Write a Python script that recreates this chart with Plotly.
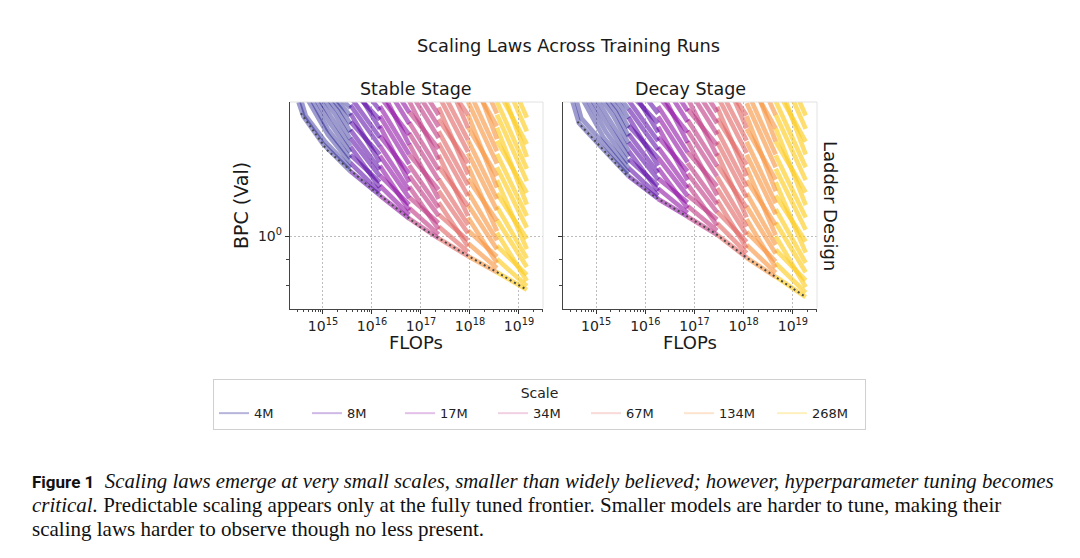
import plotly.graph_objects as go

# ---- data --------------------------------------------------------------
SCALES = ["4M", "8M", "17M", "34M", "67M", "134M", "268M"]
SCALE_COLORS = ["#0d0887", "#5601a4", "#8f0da4", "#bf3984", "#e16462", "#f89540", "#fcce25"]
SCALE_OPACITY = [0.4, 0.55, 0.58, 0.6, 0.6, 0.62, 0.66]
LEGEND_COLORS = ["rgba(13,8,135,0.30)", "rgba(86,1,164,0.28)", "rgba(143,13,164,0.26)",
                 "rgba(191,57,132,0.24)", "rgba(225,100,98,0.24)", "rgba(248,149,64,0.26)",
                 "rgba(252,206,37,0.30)"]

X_TICKS = [1e15, 1e16, 1e17, 1e18, 1e19]
X_TICK_TEXT = ["10<sup>15</sup>", "10<sup>16</sup>", "10<sup>17</sup>", "10<sup>18</sup>", "10<sup>19</sup>"]
Y_TICKS = [1.0]
Y_TICK_TEXT = ["10<sup>0</sup>"]
Y_MINOR = [0.8, 0.9]

# log10 FLOPs at which each scale's runs end (the previous one is where its visible band starts)
stable_budget = [15.56, 16.16, 16.76, 17.36, 17.96, 18.55, 19.16]
decay_budget = [15.66, 16.26, 16.86, 17.46, 18.06, 18.65, 19.26]

# 4M curves: (log10 FLOPs, BPC) points
stable_4m = [
    [(14.5, 1.83), (14.6, 1.715), (15.0, 1.515), (15.56, 1.339)],
    [(14.5, 1.92), (14.65, 1.72), (15.05, 1.53), (15.56, 1.36)],
    [(14.55, 1.95), (15.1, 1.58), (15.56, 1.39)],
    [(14.6, 1.98), (15.1, 1.62), (15.56, 1.42)],
    [(14.65, 2.0), (15.15, 1.66), (15.56, 1.46)],
    [(14.7, 2.0), (15.2, 1.70), (15.56, 1.50)],
    [(14.8, 1.98), (15.25, 1.73), (15.56, 1.55)],
    [(14.9, 1.96), (15.3, 1.76), (15.56, 1.60)],
    [(14.95, 1.98), (15.35, 1.78), (15.56, 1.66)],
    [(15.05, 1.96), (15.4, 1.80), (15.56, 1.72)],
    [(15.15, 1.95), (15.45, 1.83), (15.56, 1.78)],
]
decay_4m = [
    [(14.5, 1.86), (14.65, 1.665), (15.1, 1.495), (15.66, 1.311)],
    [(14.55, 1.92), (14.7, 1.70), (15.15, 1.52), (15.66, 1.33)],
    [(14.6, 1.95), (15.15, 1.56), (15.66, 1.36)],
    [(14.65, 1.98), (15.2, 1.60), (15.66, 1.39)],
    [(14.7, 2.0), (15.25, 1.64), (15.66, 1.43)],
    [(14.8, 2.0), (15.3, 1.68), (15.66, 1.47)],
    [(14.9, 1.98), (15.35, 1.72), (15.66, 1.52)],
    [(15.0, 1.96), (15.4, 1.75), (15.66, 1.57)],
    [(15.05, 1.98), (15.45, 1.77), (15.66, 1.63)],
    [(15.15, 1.96), (15.5, 1.80), (15.66, 1.70)],
    [(15.25, 1.95), (15.55, 1.83), (15.66, 1.77)],
]

# larger scales: BPC of each run where its band starts and at its final budget
stable_8m_start = [1.340, 1.391, 1.443, 1.498, 1.555, 1.614, 1.675, 1.739, 1.805, 1.873, 1.944, 2.018, 2.094]
stable_8m_end = [1.203, 1.222, 1.276, 1.247, 1.312, 1.352, 1.445, 1.396, 1.500, 1.560, 1.690, 1.622, 1.762]
stable_17m_start = [1.202, 1.257, 1.315, 1.374, 1.437, 1.503, 1.572, 1.644, 1.718, 1.796, 1.878, 1.964, 2.054, 2.148]
stable_17m_end = [1.083, 1.102, 1.153, 1.125, 1.189, 1.230, 1.327, 1.276, 1.384, 1.445, 1.581, 1.510, 1.660, 1.746]
stable_34m_start = [1.083, 1.136, 1.192, 1.251, 1.313, 1.377, 1.445, 1.516, 1.591, 1.670, 1.752, 1.838, 1.929, 2.024, 2.123]
stable_34m_end = [0.991, 1.009, 1.062, 1.033, 1.096, 1.138, 1.233, 1.183, 1.288, 1.349, 1.483, 1.413, 1.556, 1.637, 1.726]
stable_67m_start = [0.991, 1.045, 1.104, 1.164, 1.227, 1.294, 1.368, 1.442, 1.521, 1.603, 1.694, 1.786, 1.884, 1.986, 2.099, 2.213]
stable_67m_end = [0.915, 0.933, 0.982, 0.955, 1.014, 1.052, 1.146, 1.096, 1.199, 1.259, 1.390, 1.321, 1.462, 1.542, 1.726, 1.629]
stable_134m_start = [0.914, 0.969, 1.027, 1.088, 1.153, 1.222, 1.295, 1.372, 1.454, 1.541, 1.633, 1.730, 1.833, 1.943, 2.059, 2.182, 2.312]
stable_134m_end = [0.851, 0.867, 0.912, 0.887, 0.944, 0.982, 1.072, 1.023, 1.125, 1.183, 1.312, 1.245, 1.387, 1.466, 1.641, 1.549, 1.738]
stable_268m_start = [0.851, 0.903, 0.958, 1.016, 1.078, 1.143, 1.213, 1.287, 1.365, 1.448, 1.536, 1.630, 1.729, 1.834, 1.946, 2.064, 2.190, 2.323]
stable_268m_end = [0.786, 0.800, 0.841, 0.818, 0.871, 0.906, 0.989, 0.944, 1.040, 1.096, 1.216, 1.153, 1.282, 1.355, 1.514, 1.429, 1.603, 1.706]

decay_8m_start = [1.311, 1.361, 1.415, 1.469, 1.526, 1.585, 1.646, 1.709, 1.775, 1.844, 1.914, 1.988, 2.065]
decay_8m_end = [1.184, 1.202, 1.256, 1.227, 1.291, 1.330, 1.422, 1.374, 1.476, 1.535, 1.663, 1.596, 1.738]
decay_17m_start = [1.183, 1.240, 1.298, 1.360, 1.424, 1.492, 1.563, 1.637, 1.715, 1.796, 1.882, 1.971, 2.064, 2.163]
decay_17m_end = [1.093, 1.112, 1.164, 1.135, 1.199, 1.242, 1.340, 1.288, 1.396, 1.459, 1.596, 1.524, 1.675, 1.758]
decay_34m_start = [1.092, 1.146, 1.203, 1.263, 1.326, 1.391, 1.461, 1.533, 1.609, 1.689, 1.774, 1.862, 1.954, 2.051, 2.153]
decay_34m_end = [1.007, 1.026, 1.079, 1.050, 1.114, 1.156, 1.253, 1.202, 1.309, 1.371, 1.507, 1.435, 1.581, 1.663, 1.750]
decay_67m_start = [1.007, 1.061, 1.118, 1.178, 1.241, 1.308, 1.378, 1.453, 1.530, 1.613, 1.699, 1.791, 1.887, 1.988, 2.095, 2.208]
decay_67m_end = [0.909, 0.927, 0.975, 0.948, 1.007, 1.045, 1.138, 1.089, 1.191, 1.250, 1.380, 1.312, 1.455, 1.538, 1.722, 1.626]
decay_134m_start = [0.908, 0.962, 1.020, 1.080, 1.145, 1.213, 1.286, 1.362, 1.444, 1.530, 1.622, 1.718, 1.821, 1.930, 2.045, 2.167, 2.296]
decay_134m_end = [0.833, 0.849, 0.893, 0.869, 0.925, 0.962, 1.052, 1.005, 1.104, 1.161, 1.291, 1.225, 1.365, 1.445, 1.626, 1.531, 1.726]
decay_268m_start = [0.834, 0.886, 0.942, 1.001, 1.064, 1.130, 1.201, 1.276, 1.356, 1.441, 1.532, 1.628, 1.730, 1.838, 1.953, 2.076, 2.206, 2.344]
decay_268m_end = [0.761, 0.776, 0.820, 0.796, 0.851, 0.887, 0.977, 0.929, 1.030, 1.089, 1.219, 1.151, 1.288, 1.365, 1.531, 1.445, 1.622, 1.722]

# compute-optimal frontier (dotted)
stable_frontier_flops = [14.55, 15.08, 16.03, 16.98, 18.0, 18.55, 19.16]
stable_frontier_bpc = [1.74, 1.475, 1.231, 1.043, 0.911, 0.851, 0.786]
decay_frontier_flops = [14.62, 15.59, 16.2, 17.43, 18.04, 19.27]
decay_frontier_bpc = [1.675, 1.327, 1.194, 1.012, 0.911, 0.760]

stable_bands = [(stable_8m_start, stable_8m_end), (stable_17m_start, stable_17m_end),
                (stable_34m_start, stable_34m_end), (stable_67m_start, stable_67m_end),
                (stable_134m_start, stable_134m_end), (stable_268m_start, stable_268m_end)]
decay_bands = [(decay_8m_start, decay_8m_end), (decay_17m_start, decay_17m_end),
               (decay_34m_start, decay_34m_end), (decay_67m_start, decay_67m_end),
               (decay_134m_start, decay_134m_end), (decay_268m_start, decay_268m_end)]

# ---- layout helpers (page body adds an 8px margin) -----------------------
W, H, PAD = 1080, 558, 8


def px(x):
    return (x - PAD) / W


def py(y):
    return 1 - (y - PAD) / H


fig = go.Figure()


def add_run(xs, ys, k, xref, yref):
    fig.add_trace(go.Scatter(
        x=[10.0 ** v for v in xs], y=ys, mode="lines",
        line=dict(color=SCALE_COLORS[k], width=4.6), opacity=SCALE_OPACITY[k],
        showlegend=False, hoverinfo="skip", xaxis=xref, yaxis=yref))


def add_panel(small_runs, bands, budget, frontier_x, frontier_y, xref, yref):
    # bigger scales first so the smaller ones sit on top
    for k in range(len(bands), 0, -1):
        starts, ends = bands[k - 1]
        for s, e in zip(starts, ends):
            add_run([budget[k - 1], budget[k]], [s, e], k, xref, yref)
    for run in small_runs:
        add_run([p[0] for p in run], [p[1] for p in run], 0, xref, yref)
    fig.add_trace(go.Scatter(
        x=[10.0 ** v for v in frontier_x], y=frontier_y, mode="lines",
        line=dict(color="#4a4a4a", width=2, dash="2px,3px"),
        showlegend=False, hoverinfo="skip", xaxis=xref, yaxis=yref))


add_panel(stable_4m, stable_bands, stable_budget, stable_frontier_flops, stable_frontier_bpc, "x", "y")
add_panel(decay_4m, decay_bands, decay_budget, decay_frontier_flops, decay_frontier_bpc, "x2", "y2")

for name, color in zip(SCALES, LEGEND_COLORS):
    fig.add_trace(go.Scatter(x=[None], y=[None], mode="lines", name=name,
                             line=dict(color=color, width=2)))

x_minor = [m * 10.0 ** k for k in range(14, 20) for m in range(2, 10)]

xaxis_style = dict(
    type="log", range=[14.327, 19.49], tickmode="array", tickvals=X_TICKS, ticktext=X_TICK_TEXT,
    ticks="outside", ticklen=4, tickwidth=1, tickcolor="#333",
    showline=True, linecolor="#444", linewidth=1.4, mirror=False,
    showgrid=True, gridcolor="#bdbdbd", griddash="2px,2px", gridwidth=1, zeroline=False,
    tickfont=dict(family="DejaVu Sans", size=14, color="#222"),
    minor=dict(tickmode="array", tickvals=x_minor, ticks="outside", ticklen=2.5,
               tickwidth=1, tickcolor="#444", showgrid=False),
)
yaxis_style = dict(
    type="log", range=[-0.141, 0.2625], tickmode="array", tickvals=Y_TICKS, ticktext=Y_TICK_TEXT,
    ticks="outside", ticklen=4, tickwidth=1, tickcolor="#333",
    showline=True, linecolor="#444", linewidth=1.4, mirror=False,
    showgrid=True, gridcolor="#bdbdbd", griddash="2px,2px", gridwidth=1, zeroline=False,
    tickfont=dict(family="DejaVu Sans", size=14, color="#222"),
    minor=dict(tickmode="array", tickvals=Y_MINOR, ticks="outside", ticklen=2.5,
               tickwidth=1, tickcolor="#444", showgrid=False),
)

fig.update_layout(
    width=W, height=H, margin=dict(l=0, r=0, t=0, b=0),
    paper_bgcolor="white", plot_bgcolor="white",
    font=dict(family="DejaVu Sans", color="#222"),
    xaxis=dict(domain=[px(290), px(543)], anchor="y", **xaxis_style),
    yaxis=dict(domain=[py(308.5), py(102)], anchor="x", **yaxis_style),
    xaxis2=dict(domain=[px(563), px(817)], anchor="y2", **xaxis_style),
    yaxis2=dict(domain=[py(308.5), py(102)], anchor="x2", showticklabels=False, **yaxis_style),
    legend=dict(
        orientation="h", x=px(539.5), xanchor="center", y=py(379), yanchor="top",
        bordercolor="#d0d0d0", borderwidth=1, bgcolor="white",
        font=dict(family="DejaVu Sans", size=13, color="#222"),
        title=dict(text="Scale", side="top center", font=dict(size=14)),
        entrywidth=48, itemwidth=30,
    ),
    showlegend=True,
)

# faint top and right frame lines
for xr, yr in (("x domain", "y domain"), ("x2 domain", "y2 domain")):
    fig.add_shape(type="line", xref=xr, yref=yr, x0=0, x1=1, y0=1, y1=1,
                  line=dict(color="#e2e2e2", width=1))
    fig.add_shape(type="line", xref=xr, yref=yr, x0=1, x1=1, y0=0, y1=1,
                  line=dict(color="#e2e2e2", width=1))

texts = [
    dict(text="Scaling Laws Across Training Runs", x=568, y=45, size=17.8, angle=0),
    dict(text="Stable Stage", x=416, y=89, size=17.5, angle=0),
    dict(text="Decay Stage", x=690, y=89, size=17.5, angle=0),
    dict(text="FLOPs", x=416, y=343, size=18, angle=0),
    dict(text="FLOPs", x=690, y=343, size=18, angle=0),
    dict(text="BPC (Val)", x=241, y=206, size=19, angle=-90),
    dict(text="Ladder Design", x=831, y=206, size=18, angle=90),
]
for t in texts:
    fig.add_annotation(text=t["text"], x=px(t["x"]), y=py(t["y"]),
                       xref="paper", yref="paper", showarrow=False, textangle=t["angle"],
                       xanchor="center", yanchor="middle",
                       font=dict(family="DejaVu Sans", size=t["size"], color="#1a1a1a"))

caption = [
    "<span style=\"font-family:Roboto;font-weight:bold;font-size:17px\">Figure 1</span>  "
    "<span style=\"font-size:20.8px\"><i>Scaling laws emerge at very small scales, smaller than widely believed; "
    "however, hyperparameter tuning becomes</i></span>",
    "<i>critical.</i> Predictable scaling appears only at the fully tuned frontier. "
    "Smaller models are harder to tune, making their",
    "scaling laws harder to observe though no less present.",
]
for i, line in enumerate(caption):
    fig.add_annotation(text=line, x=px(30), y=py(481 + 24 * i),
                       xref="paper", yref="paper", showarrow=False,
                       xanchor="left", yanchor="middle",
                       font=dict(family="Liberation Serif", size=21, color="#111"))

fig.write_html("out.html")
